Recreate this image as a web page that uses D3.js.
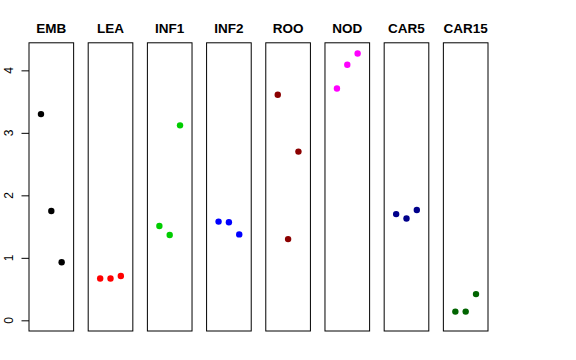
<!DOCTYPE html>
<html><head><meta charset="utf-8">
<script src="https://cdn.jsdelivr.net/npm/d3@7"></script>
<style>body{margin:0;background:#fff}svg{display:block}</style>
</head><body>
<svg id="c" width="576" height="360"></svg>
<script>
const categories = ["EMB","LEA","INF1","INF2","ROO","NOD","CAR5","CAR15"];
const colors = ["#000000","#FF0000","#00CD00","#0000FF","#8B0000","#FF00FF","#00008B","#006400"];
const positions = [1,2,3];
const EMB = [3.30,1.75,0.93];
const LEA = [0.67,0.67,0.71];
const INF1 = [1.51,1.365,3.12];
const INF2 = [1.58,1.57,1.375];
const ROO = [3.61,1.30,2.70];
const NOD = [3.71,4.09,4.27];
const CAR5 = [1.70,1.63,1.765];
const CAR15 = [0.14,0.14,0.42];
const seriesValues = [EMB,LEA,INF1,INF2,ROO,NOD,CAR5,CAR15];
const yTicks = [0,1,2,3,4];

const svg = d3.select("#c");
const plotTop = 42.8, plotBottom = 331;
const yMax = d3.max(seriesValues.flat());
const pad = 0.04*yMax;
const y = d3.scaleLinear().domain([0-pad, yMax+pad]).range([plotBottom, plotTop]);
const band = d3.scaleBand().domain(categories).range([29, 488]).paddingInner(0.246).paddingOuter(0);
const bw = band.bandwidth();
const x = d3.scaleLinear().domain([0-0.16, 4+0.16]).range([0, bw]);

categories.forEach((cat, i) => {
  const g = svg.append("g").attr("transform", `translate(${band(cat)},0)`);
  g.append("rect").attr("x",0).attr("y",plotTop).attr("width",bw).attr("height",plotBottom-plotTop)
    .attr("fill","none").attr("stroke","#000").attr("stroke-width",1);
  g.append("text").attr("x",bw/2).attr("y",33).attr("text-anchor","middle")
    .attr("font-family","Liberation Sans, Arial, sans-serif").attr("font-weight","bold")
    .attr("font-size","13.5px").text(cat);
  g.selectAll("circle").data(seriesValues[i]).enter().append("circle")
    .attr("cx",(d,j)=>x(positions[j])).attr("cy",d=>y(d)).attr("r",3.2).attr("fill",colors[i]);
});

// y axis
const ax = svg.append("g").attr("transform",`translate(${band(categories[0])},0)`);
ax.call(d3.axisLeft(y).tickValues(yTicks).tickSize(7.5).tickFormat(""));
ax.select(".domain").remove();
ax.selectAll("line").attr("stroke","#000");
yTicks.forEach(t => {
  svg.append("text").attr("transform",`translate(12.5,${y(t)}) rotate(-90)`)
    .attr("text-anchor","middle").attr("font-family","Liberation Sans, Arial, sans-serif")
    .attr("font-size","12px").text(t);
});
</script>
</body></html>
